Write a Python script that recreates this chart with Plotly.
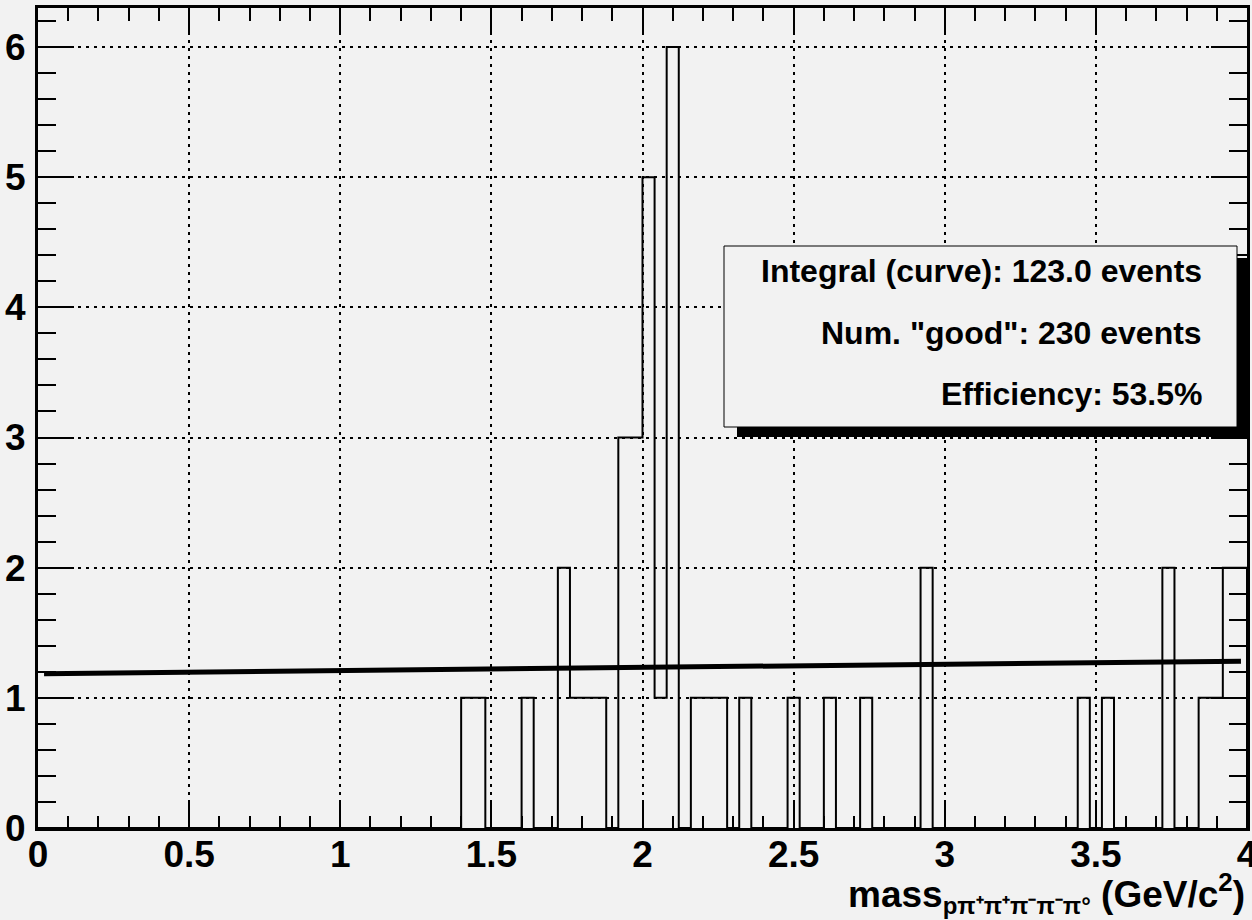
import numpy as np
import plotly.graph_objects as go

# ---------------- data ----------------
n_bins = 100
x_min, x_max = 0.0, 4.0
# non-empty bins: low edge and content
bin_low = [1.40, 1.44, 1.60, 1.72, 1.76, 1.80, 1.84, 1.92, 1.96, 2.00, 2.04, 2.08,
           2.16, 2.20, 2.24, 2.32, 2.48, 2.60, 2.72, 2.92, 3.44, 3.52, 3.72,
           3.84, 3.88, 3.92, 3.96]
bin_count = [1, 1, 1, 2, 1, 1, 1, 3, 3, 5, 1, 6,
             1, 1, 1, 1, 1, 1, 1, 2, 1, 1, 2,
             1, 1, 2, 2]
# linear fit curve (end points)
fit_x = [0.02, 3.98]
fit_y = [1.186, 1.282]

x_ticks = [0, 0.5, 1, 1.5, 2, 2.5, 3, 3.5, 4]
x_tick_text = ['0', '0.5', '1', '1.5', '2', '2.5', '3', '3.5', '4']

stats_lines = ['Integral (curve): 123.0 events',
               'Num. "good": 230 events',
               'Efficiency: 53.5%']
x_title = ('mass<sub><span style="font-size:24px">pπ⁺π⁺π⁻π⁻π°</span></sub>'
           ' (GeV/c<sup>2</sup>)')

# ---------------- build histogram outline ----------------
edges = np.linspace(x_min, x_max, n_bins + 1)
counts = np.zeros(n_bins)
for lo, c in zip(bin_low, bin_count):
    counts[int(round((lo - x_min) / (x_max - x_min) * n_bins))] = c
hx = list(edges) + [edges[-1]]
hy = list(counts) + [counts[-1], 0]

BG = '#f2f2f2'
FONT = 'Liberation Sans, Arial, Helvetica, sans-serif'

fig = go.Figure()
fig.add_trace(go.Scatter(x=hx, y=hy, mode='lines', line=dict(color='black', width=2, shape='hv'),
                         hoverinfo='skip', showlegend=False, cliponaxis=False))
fig.add_trace(go.Scatter(x=fit_x, y=fit_y, mode='lines', line=dict(color='black', width=5),
                         hoverinfo='skip', showlegend=False))
# carrier for mirrored (top/right) tick axes
fig.add_trace(go.Scatter(x=[None], y=[None], xaxis='x2', yaxis='y2', showlegend=False,
                         hoverinfo='skip'))

W, H = 1252, 920
ml, mr, mt, mb = 38, 5, 8, 92
pw, ph = W - ml - mr, H - mt - mb


def px(xp):
    return (xp - ml) / pw


def py(yp):
    return (H - mb - yp) / ph


# stats box shadow and box
fig.add_shape(type='rect', xref='paper', yref='paper', x0=px(737), x1=px(1249), y0=py(437), y1=py(258),
              fillcolor='black', line=dict(width=0), layer='above')
fig.add_shape(type='rect', xref='paper', yref='paper', x0=px(724), x1=px(1237), y0=py(427), y1=py(246),
              fillcolor=BG, line=dict(color='black', width=1), layer='above')
for txt, yc in zip(stats_lines, [271, 333, 394]):
    fig.add_annotation(xref='paper', yref='paper', x=px(1204), y=py(yc), text=txt, showarrow=False,
                       xanchor='right', yanchor='middle',
                       font=dict(family=FONT, size=32, color='black', weight='bold'))

fig.add_annotation(xref='paper', yref='paper', x=1.0, y=py(893), text=x_title, showarrow=False,
                   xanchor='right', yanchor='middle',
                   font=dict(family=FONT, size=37, color='black', weight='bold'))

tickfont = dict(family=FONT, size=37, color='black', weight='bold')
grid = dict(showgrid=True, gridcolor='black', gridwidth=2, griddash='3px,5px', zeroline=False)
line = dict(showline=True, linecolor='black', linewidth=3, mirror=True)
tk = dict(ticks='inside', tickcolor='black', tickwidth=2)

fig.update_layout(
    xaxis=dict(range=[x_min, x_max], tickvals=x_ticks, ticktext=x_tick_text, ticklen=25,
               ticklabelstandoff=-8, ticklabeloverflow='allow', automargin=False, tickfont=tickfont,
               minor=dict(dtick=0.1, tick0=0, ticks='inside', ticklen=12, tickcolor='black',
                          tickwidth=2, showgrid=False),
               **grid, **line, **tk),
    yaxis=dict(range=[0, 6.3], tick0=0, dtick=1, ticklen=36, ticklabelstandoff=2,
               ticklabeloverflow='allow', automargin=False, tickfont=tickfont,
               minor=dict(dtick=0.2, tick0=0, ticks='inside', ticklen=18, tickcolor='black',
                          tickwidth=2, showgrid=False),
               **grid, **line, **tk),
    xaxis2=dict(range=[x_min, x_max], overlaying='x', side='top', anchor='y2', automargin=False,
                tickvals=x_ticks, ticklen=26, showticklabels=False, showgrid=False, zeroline=False,
                showline=False,
                minor=dict(dtick=0.1, tick0=0, ticks='inside', ticklen=13, tickcolor='black',
                           tickwidth=2, showgrid=False),
                **tk),
    yaxis2=dict(range=[0, 6.3], overlaying='y', side='right', anchor='x2', automargin=False,
                tick0=0, dtick=1, ticklen=36, showticklabels=False, showgrid=False, zeroline=False,
                showline=False,
                minor=dict(dtick=0.2, tick0=0, ticks='inside', ticklen=18, tickcolor='black',
                           tickwidth=2, showgrid=False),
                **tk),
    width=W, height=H, autosize=False,
    margin=dict(l=ml, r=mr, t=mt, b=mb, pad=0, autoexpand=False),
    paper_bgcolor=BG, plot_bgcolor=BG,
    font=dict(family=FONT, color='black'),
    showlegend=False,
)

fig.write_html("out.html", config={'displayModeBar': False},
               post_script="document.body.style.margin='0';")
